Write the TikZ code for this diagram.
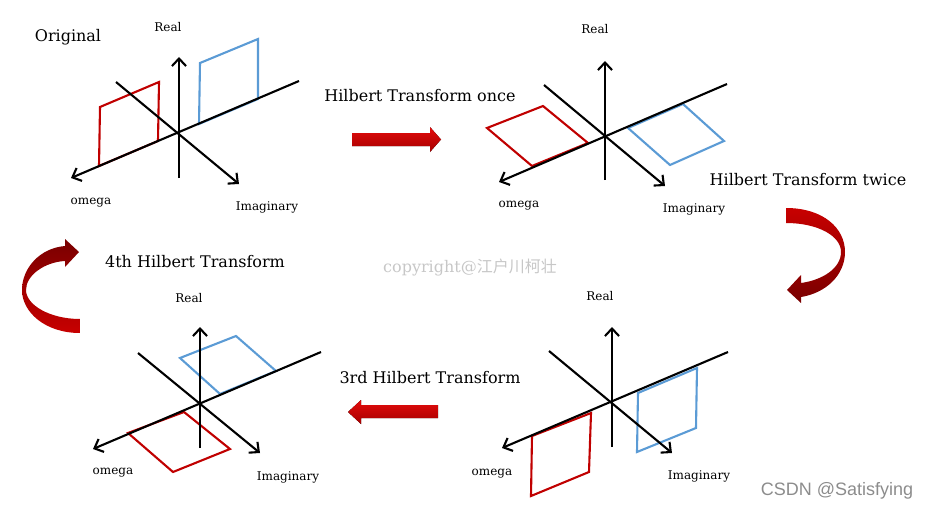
\documentclass[tikz,border=0pt]{standalone}
\usepackage{fontspec}
\setmainfont{DejaVu Serif}
\newfontfamily\cjkfont{Noto Sans CJK SC}
\newfontfamily\csdnfont{Liberation Sans}
\usepackage{tikz}
\usetikzlibrary{arrows.meta}

\definecolor{hred}{HTML}{C00000}
\definecolor{hblue}{HTML}{5B9BD5}
\definecolor{arrowhi}{RGB}{228,12,12}
\definecolor{arrowlo}{RGB}{165,0,0}
\definecolor{arrowdark}{RGB}{120,0,0}
\definecolor{arrowmid}{RGB}{200,0,0}

\begin{document}
\begin{tikzpicture}[
    x=1pt, y=-1pt,
    axis/.style={line width=2.1pt, -{Straight Barb[length=7.5pt,width=14pt]}},
    redbox/.style={draw=hred, line width=2.1pt},
    bluebox/.style={draw=hblue, line width=2.1pt},
    axislabel/.style={font=\fontsize{12}{14}\selectfont},
    title/.style={font=\fontsize{16}{19}\selectfont},
    bigarrow/.style={top color=arrowhi, bottom color=arrowlo, draw=none},
    turnarrow/.style={draw=none}
]
\useasboundingbox (0,0) rectangle (930,511);

% Original
\node[title] (orig) at (68,37) {Original};
\begin{scope}[shift={(179,134)}]
    \coordinate (re1s) at (0,44);   \coordinate (re1e) at (0,-77);
    \coordinate (om1s) at (120,-53); \coordinate (om1e) at (-108,44);
    \coordinate (im1s) at (-63,-52); \coordinate (im1e) at (60,50);
    \draw[redbox] (-80,32) -- (-79,-27) -- (-20,-52) -- (-21,7) -- cycle;
    \draw[bluebox] (20,-10) -- (21,-71) -- (79,-95) -- (79,-35) -- cycle;
    \draw[axis] (re1s) -- (re1e);
    \draw[axis] (om1s) -- (om1e);
    \draw[axis] (im1s) -- (im1e);
    \node[axislabel] (real1) at (-11,-107) {Real};
    \node[axislabel] (omega1) at (-88,69) {omega};
    \node[axislabel] (imag1) at (88,73) {Imaginary};
\end{scope}

% once
\node[title] (once) at (420,96) {Hilbert Transform once};
\fill[bigarrow] (352,133) -- (430,133) -- (430,127) -- (441,139.5) -- (430,152) -- (430,146) -- (352,146) -- cycle;
\begin{scope}[shift={(605,136)}]
    \coordinate (re2s) at (0,44);   \coordinate (re2e) at (0,-75);
    \coordinate (om2s) at (122,-52); \coordinate (om2e) at (-106,46);
    \coordinate (im2s) at (-61,-51); \coordinate (im2e) at (60,50);
    \draw[redbox] (-118,-8) -- (-62,-30) -- (-17,7) -- (-73,30) -- cycle;
    \draw[bluebox] (23,-8) -- (78,-32) -- (119,5) -- (65,29) -- cycle;
    \draw[axis] (re2s) -- (re2e);
    \draw[axis] (om2s) -- (om2e);
    \draw[axis] (im2s) -- (im2e);
    \node[axislabel] (real2) at (-10,-107) {Real};
    \node[axislabel] (omega2) at (-86,70) {omega};
    \node[axislabel] (imag2) at (89,73) {Imaginary};
\end{scope}

% twice
\node[title] (twice) at (808,180) {Hilbert Transform twice};
\shade[turnarrow, top color=arrowmid, bottom color=arrowdark]
    (786,208) .. controls (823,208) and (845,228) .. (845,252)
    .. controls (845,275) and (826,293) .. (801,297) -- (801,303) -- (787,290) -- (801,275) -- (801,283)
    .. controls (823,280) and (841,268) .. (841,252)
    .. controls (841,236) and (818,223) .. (786,223) -- cycle;

% 3rd
\node[title] (third) at (430,378) {3rd Hilbert Transform};
\fill[bigarrow] (438,405) -- (361,405) -- (361,400) -- (348,412) -- (361,424) -- (361,418) -- (438,418) -- cycle;
\begin{scope}[shift={(612,403)}]
    \coordinate (re3s) at (0,44);   \coordinate (re3e) at (0,-76);
    \coordinate (om3s) at (116,-51); \coordinate (om3e) at (-110,45);
    \coordinate (im3s) at (-63,-52); \coordinate (im3e) at (60,50);
    \draw[redbox] (-80,33) -- (-21,10) -- (-23,69) -- (-81,93) -- cycle;
    \draw[bluebox] (26,-10) -- (85,-35) -- (84,25) -- (25,49) -- cycle;
    \draw[axis] (re3s) -- (re3e);
    \draw[axis] (om3s) -- (om3e);
    \draw[axis] (im3s) -- (im3e);
    \node[axislabel] (real3) at (-12,-107) {Real};
    \node[axislabel] (omega3) at (-120,71) {omega};
    \node[axislabel] (imag3) at (87,73) {Imaginary};
\end{scope}

% 4th
\node[title] (fourth) at (195,262) {4th Hilbert Transform};
\shade[turnarrow, top color=arrowdark, bottom color=arrowmid]
    (80,333) .. controls (45,333) and (22,312) .. (22,290)
    .. controls (22,268) and (40,248) .. (65,246) -- (65,239) -- (79,252) -- (65,267) -- (65,261)
    .. controls (45,262) and (26,275) .. (26,290)
    .. controls (26,305) and (50,319) .. (80,319) -- cycle;
\begin{scope}[shift={(200,403)}]
    \coordinate (re4s) at (0,45);   \coordinate (re4e) at (0,-76);
    \coordinate (om4s) at (121,-51); \coordinate (om4e) at (-107,46);
    \coordinate (im4s) at (-62,-50); \coordinate (im4e) at (60,50);
    \draw[bluebox] (-20,-45) -- (36,-67) -- (76,-32) -- (20,-9) -- cycle;
    \draw[redbox] (-72,30) -- (-16,9) -- (30,46) -- (-27,69) -- cycle;
    \draw[axis] (re4s) -- (re4e);
    \draw[axis] (om4s) -- (om4e);
    \draw[axis] (im4s) -- (im4e);
    \node[axislabel] (real4) at (-11,-105) {Real};
    \node[axislabel] (omega4) at (-87,70) {omega};
    \node[axislabel] (imag4) at (88,74) {Imaginary};
\end{scope}

% watermarks
\node[font=\fontsize{16}{19}\selectfont, text=black!22] (copy) at (470,268) {copyright@{\cjkfont 江户川柯壮}};
\node[font=\csdnfont\fontsize{18}{21}\selectfont, text=black!45] (csdn) at (837,491) {CSDN @Satisfying};

\end{tikzpicture}
\end{document}
